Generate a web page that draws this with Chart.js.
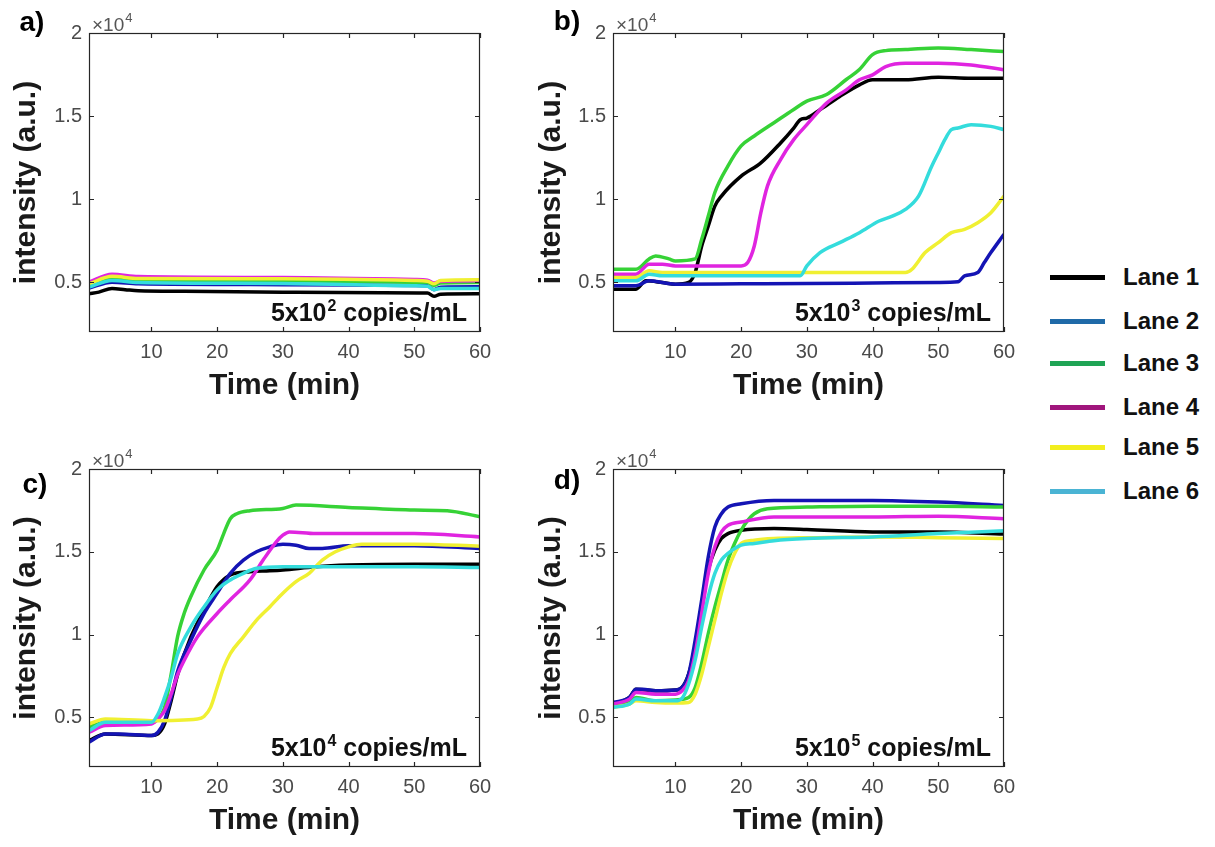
<!DOCTYPE html>
<html>
<head>
<meta charset="utf-8">
<script src="https://cdn.jsdelivr.net/npm/chart.js@4.4.1/dist/chart.umd.min.js"></script>
<style>
  html, body { margin:0; padding:0; background:#fff; }
  body { width:1215px; height:847px; position:relative; overflow:hidden; font-family:"Liberation Sans", Arial, sans-serif; }
  canvas { position:absolute; }
  #legend { position:absolute; left:1050px; top:262px; }
  .item { position:absolute; left:0; width:170px; height:30px; }
  .sw { position:absolute; left:0; top:13px; width:55px; height:5px; }
  .lb { position:absolute; left:73px; top:0; font-weight:bold; font-size:24px; line-height:30px; color:#111; white-space:nowrap; }
</style>
</head>
<body>
<canvas id="ca" width="525" height="410" style="left:0px;top:0px"></canvas>
<canvas id="cb" width="525" height="410" style="left:525px;top:0px"></canvas>
<canvas id="cc" width="525" height="427" style="left:0px;top:420px"></canvas>
<canvas id="cd" width="525" height="427" style="left:525px;top:420px"></canvas>
<div id="legend"></div>
<script>
// ---- labels ----
const laneNames = ['Lane 1','Lane 2','Lane 3','Lane 4','Lane 5','Lane 6'];
const panelLabels = ['a)','b)','c)','d)'];
const concExponents = ['2','3','4','5'];
const xTicks = [10,20,30,40,50,60];
const yTicks = [0.5,1,1.5,2];   // in units of 10^4
const plotColors = ['#000000','#1414b4','#36d236','#e024e0','#f0f032','#34dcdc'];
const legendColors = ['#000000','#1f6aa8','#1fa455','#a0157c','#f2ee1e','#4ab4d4'];

// ---- panel a) 5x10^2 copies/mL  [time (min), intensity x10^4] ----
const a_lane1 = [[0.5,0.43],[2,0.44],[4,0.462],[6,0.455],[8,0.448],[15,0.445],[30,0.44],[45,0.437],[52,0.435],[53,0.415],[54,0.428],[60,0.43]];
const a_lane2 = [[0.5,0.465],[4,0.5],[8,0.49],[30,0.485],[50,0.48],[52,0.478],[53,0.455],[54,0.47],[60,0.472]];
const a_lane3 = [[0.5,0.48],[4,0.525],[8,0.512],[30,0.508],[50,0.5],[52,0.498],[53,0.48],[54,0.495],[60,0.498]];
const a_lane4 = [[0.5,0.5],[4,0.548],[8,0.534],[30,0.528],[50,0.516],[52,0.512],[53,0.495],[54,0.505],[60,0.508]];
const a_lane5 = [[0.5,0.49],[4,0.535],[8,0.522],[30,0.52],[50,0.51],[52,0.506],[53,0.49],[54,0.51],[60,0.515]];
const a_lane6 = [[0.5,0.47],[4,0.51],[8,0.498],[30,0.492],[50,0.478],[52,0.475],[53,0.455],[54,0.462],[60,0.462]];

// ---- panel b) 5x10^3 copies/mL ----
const b_lane1 = [[0.5,0.458],[4,0.458],[5.5,0.508],[8,0.498],[10,0.488],[12,0.498],[13,0.558],[14,0.718],[15,0.838],[16,0.958],[17,1.018],[20,1.138],[23,1.218],[26,1.338],[28,1.428],[29,1.478],[30,1.488],[32,1.538],[35,1.618],[38,1.688],[40,1.718],[45,1.718],[50,1.734],[55,1.728],[60,1.728]];
const b_lane2 = [[0.5,0.478],[4,0.478],[6,0.508],[10,0.488],[20,0.49],[30,0.492],[40,0.495],[50,0.498],[53,0.502],[54,0.538],[56,0.558],[57,0.618],[58,0.678],[60,0.788]];
const b_lane3 = [[0.5,0.578],[4,0.578],[6,0.64],[7,0.658],[9,0.64],[10,0.628],[13,0.64],[14,0.758],[15,0.898],[16,1.04],[18,1.2],[20,1.32],[22,1.38],[25,1.46],[28,1.54],[30,1.59],[33,1.63],[36,1.72],[38,1.78],[40,1.87],[42,1.894],[45,1.9],[50,1.91],[55,1.9],[60,1.888]];
const b_lane4 = [[0.5,0.548],[4,0.548],[6,0.608],[8,0.608],[10,0.598],[20,0.598],[21,0.618],[22,0.718],[23,0.918],[24,1.078],[26,1.238],[28,1.358],[30,1.448],[33,1.578],[36,1.658],[38,1.718],[40,1.748],[42,1.798],[45,1.818],[50,1.818],[55,1.808],[60,1.778]];
const b_lane5 = [[0.5,0.528],[4,0.528],[6,0.568],[8,0.558],[45,0.558],[46,0.578],[48,0.678],[50,0.738],[52,0.798],[54,0.818],[56,0.858],[58,0.918],[60,1.018]];
const b_lane6 = [[0.5,0.508],[4,0.508],[6,0.548],[8,0.538],[29,0.538],[30,0.598],[32,0.678],[35,0.738],[38,0.798],[41,0.868],[43,0.898],[45,0.938],[47,1.018],[49,1.198],[50,1.278],[51,1.358],[52,1.418],[53,1.428],[55,1.448],[58,1.438],[60,1.418]];

// ---- panel c) 5x10^4 copies/mL ----
const c_lane1 = [[0.5,0.36],[3,0.4],[10,0.39],[11,0.4],[12,0.46],[13,0.6],[14,0.76],[16,0.985],[18,1.147],[20,1.29],[22,1.36],[25,1.38],[28,1.385],[30,1.39],[35,1.41],[40,1.42],[50,1.425],[60,1.425]];
const c_lane2 = [[0.5,0.35],[3,0.4],[5,0.4],[10,0.39],[11,0.41],[12,0.48],[13,0.62],[14,0.78],[16,0.965],[18,1.127],[20,1.25],[22,1.37],[24,1.45],[26,1.5],[28,1.53],[30,1.546],[32,1.54],[34,1.52],[36,1.52],[40,1.537],[50,1.537],[60,1.52]];
const c_lane3 = [[0.5,0.44],[3,0.47],[10,0.47],[11,0.49],[12,0.56],[13,0.76],[14,0.99],[15,1.13],[16,1.23],[18,1.39],[20,1.51],[21,1.61],[22,1.7],[23,1.73],[25,1.748],[30,1.762],[32,1.782],[40,1.768],[50,1.752],[55,1.748],[60,1.712]];
const c_lane4 = [[0.5,0.41],[3,0.45],[10,0.46],[11,0.49],[12,0.54],[13,0.64],[14,0.76],[15,0.845],[17,0.986],[20,1.127],[22,1.21],[25,1.33],[27,1.45],[29,1.56],[30,1.6],[31,1.62],[35,1.61],[40,1.61],[50,1.61],[60,1.59]];
const c_lane5 = [[0.5,0.46],[3,0.49],[10,0.48],[17,0.49],[18,0.505],[19,0.56],[20,0.68],[21,0.8],[22,0.885],[24,0.986],[26,1.087],[28,1.167],[30,1.25],[32,1.32],[34,1.37],[36,1.45],[38,1.5],[40,1.53],[42,1.546],[50,1.546],[60,1.534]];
const c_lane6 = [[0.5,0.42],[3,0.47],[10,0.47],[11,0.52],[12,0.62],[13,0.74],[14,0.885],[16,1.046],[18,1.167],[20,1.27],[22,1.33],[24,1.37],[26,1.4],[30,1.41],[40,1.41],[50,1.41],[60,1.405]];

// ---- panel d) 5x10^5 copies/mL ----
const d_lane1 = [[0.5,0.58],[3,0.62],[4,0.67],[7,0.66],[10,0.665],[11,0.68],[12,0.76],[13,0.925],[14,1.167],[15,1.39],[16,1.51],[17,1.58],[18,1.61],[20,1.63],[25,1.64],[30,1.635],[40,1.62],[50,1.62],[60,1.607]];
const d_lane2 = [[0.5,0.59],[3,0.62],[4,0.67],[5,0.67],[7,0.66],[10,0.665],[11,0.68],[12,0.76],[13,0.965],[14,1.21],[15,1.47],[16,1.65],[17,1.73],[18,1.77],[20,1.79],[25,1.81],[30,1.81],[40,1.81],[50,1.8],[60,1.78]];
const d_lane3 = [[0.5,0.58],[3,0.59],[4,0.62],[7,0.6],[10,0.605],[12,0.62],[13,0.68],[14,0.825],[15,1.006],[16,1.167],[17,1.31],[18,1.45],[19,1.55],[20,1.63],[21,1.69],[22,1.73],[24,1.76],[30,1.77],[40,1.775],[50,1.775],[60,1.77]];
const d_lane4 = [[0.5,0.58],[3,0.61],[4,0.65],[7,0.64],[10,0.64],[11,0.66],[12,0.72],[13,0.885],[14,1.127],[15,1.37],[16,1.53],[17,1.62],[18,1.66],[20,1.68],[25,1.71],[30,1.71],[40,1.71],[50,1.715],[60,1.7]];
const d_lane5 = [[0.5,0.56],[3,0.58],[4,0.6],[7,0.59],[10,0.587],[12,0.59],[13,0.64],[14,0.76],[15,0.925],[16,1.087],[17,1.25],[18,1.39],[19,1.49],[20,1.55],[22,1.57],[25,1.58],[30,1.585],[40,1.59],[50,1.585],[60,1.58]];
const d_lane6 = [[0.5,0.56],[3,0.58],[4,0.61],[7,0.6],[10,0.6],[11,0.615],[12,0.7],[13,0.845],[14,1.046],[15,1.23],[16,1.37],[17,1.45],[18,1.49],[20,1.54],[22,1.55],[25,1.567],[30,1.58],[40,1.59],[50,1.61],[60,1.627]];

const panels = [
  {id:'ca', lanes:[a_lane1,a_lane2,a_lane3,a_lane4,a_lane5,a_lane6], area:{left:89, top:33, right:480, bottom:332}, lab:{x:32, y:23}},
  {id:'cb', lanes:[b_lane1,b_lane2,b_lane3,b_lane4,b_lane5,b_lane6], area:{left:88, top:33, right:479, bottom:332}, lab:{x:42, y:22}},
  {id:'cc', lanes:[c_lane1,c_lane2,c_lane3,c_lane4,c_lane5,c_lane6], area:{left:89, top:49, right:480, bottom:347}, lab:{x:35, y:65}},
  {id:'cd', lanes:[d_lane1,d_lane2,d_lane3,d_lane4,d_lane5,d_lane6], area:{left:88, top:49, right:479, bottom:347}, lab:{x:42, y:61}},
];

const FONT = '"Liberation Sans", Arial, Helvetica, sans-serif';

const decor = {
  id:'decor',
  afterDatasetsDraw(chart, args, o) {
    const {ctx, chartArea:{left,right,top,bottom}, scales:{x,y}} = chart;
    ctx.save();
    // box
    ctx.strokeStyle = '#262626';
    ctx.lineWidth = 1.2;
    ctx.strokeRect(left+0.5, top+0.5, right-left-1, bottom-top-1);
    // inward ticks on all sides
    const tl = 5;
    ctx.beginPath();
    x.ticks.forEach(t => {
      const px = Math.round(x.getPixelForValue(t.value)) + 0.5;
      ctx.moveTo(px, bottom); ctx.lineTo(px, bottom - tl);
      ctx.moveTo(px, top); ctx.lineTo(px, top + tl);
    });
    y.ticks.forEach(t => {
      const py = Math.round(y.getPixelForValue(t.value)) + 0.5;
      ctx.moveTo(left, py); ctx.lineTo(left + tl, py);
      ctx.moveTo(right, py); ctx.lineTo(right - tl, py);
    });
    ctx.stroke();
    // x10^4 exponent label
    ctx.fillStyle = '#555';
    ctx.textBaseline = 'alphabetic';
    ctx.textAlign = 'left';
    ctx.font = '19px ' + FONT;
    let ex = left + 3, ey = top - 2;
    ctx.fillText('\u00d710', ex, ey);
    ex += ctx.measureText('\u00d710').width + 1;
    ctx.font = '13px ' + FONT;
    ctx.fillText('4', ex, ey - 9);
    // panel label
    ctx.fillStyle = '#000';
    ctx.font = 'bold 28px ' + FONT;
    ctx.textAlign = 'center';
    ctx.textBaseline = 'middle';
    ctx.fillText(o.label, o.lx, o.ly);
    // concentration annotation
    const base = '5x10', sup = o.exp, rest = ' copies/mL';
    ctx.textAlign = 'left';
    ctx.textBaseline = 'alphabetic';
    ctx.font = 'bold 25px ' + FONT;
    const wb = ctx.measureText(base).width, wr = ctx.measureText(rest).width;
    ctx.font = 'bold 16px ' + FONT;
    const ws = ctx.measureText(sup).width + 1;
    const total = wb + ws + wr;
    let tx = right - 13 - total, ty = bottom - 11;
    ctx.fillStyle = '#111';
    ctx.font = 'bold 25px ' + FONT;
    ctx.fillText(base, tx, ty);
    ctx.font = 'bold 16px ' + FONT;
    ctx.fillText(sup, tx + wb + 1, ty - 10);
    ctx.font = 'bold 25px ' + FONT;
    ctx.fillText(rest, tx + wb + ws, ty);
    ctx.restore();
  }
};

panels.forEach((p, pi) => {
  const cv = document.getElementById(p.id);
  const W = cv.width, H = cv.height;
  const A = p.area;
  const titleSize = 30;
  const xTitlePad = H - titleSize * 0.6 - (A.bottom + 54);
  new Chart(cv.getContext('2d'), {
    type:'line',
    data:{
      datasets: p.lanes.map((pts, i) => ({
        label: laneNames[i],
        data: pts.map(([t, v]) => ({x:t, y:v})),
        borderColor: plotColors[i],
        backgroundColor: plotColors[i],
        borderWidth: 3.5,
        pointRadius: 0,
        fill: false,
        cubicInterpolationMode: 'monotone',
        order: 5 - i
      }))
    },
    options:{
      responsive:false,
      animation:false,
      devicePixelRatio:1,
      events:[],
      layout:{padding:{left:0, top:A.top, right:W - A.right, bottom:0}},
      plugins:{
        legend:{display:false},
        tooltip:{enabled:false},
        decor:{label:panelLabels[pi], exp:concExponents[pi], lx:p.lab.x, ly:p.lab.y}
      },
      scales:{
        x:{
          type:'linear', min:0.5, max:60,
          afterBuildTicks: s => { s.ticks = xTicks.map(v => ({value:v})); },
          afterFit: s => { s.height = H - A.bottom; },
          grid:{display:false, drawTicks:false, tickLength:0},
          border:{display:false},
          ticks:{color:'#4a4a4a', font:{family:FONT, size:20}, padding:8, maxRotation:0, autoSkip:false},
          title:{display:true, text:'Time (min)', color:'#1a1a1a', font:{family:FONT, size:titleSize, weight:'bold'}, padding:{top:0, bottom:xTitlePad}}
        },
        y:{
          type:'linear', min:0.2, max:2,
          afterBuildTicks: s => { s.ticks = yTicks.map(v => ({value:v})); },
          afterFit: s => { s.width = A.left; },
          grid:{display:false, drawTicks:false, tickLength:0},
          border:{display:false},
          ticks:{color:'#4a4a4a', font:{family:FONT, size:20}, padding:7, callback: v => String(v)},
          title:{display:true, text:'intensity (a.u.)', color:'#1a1a1a', font:{family:FONT, size:titleSize, weight:'bold'}, padding:{top:9, bottom:0}}
        }
      }
    },
    plugins:[decor]
  });
});

// legend (HTML)
const legendTops = [0, 44, 86, 130, 170, 214];
const lg = document.getElementById('legend');
laneNames.forEach((n, i) => {
  const it = document.createElement('div');
  it.className = 'item';
  it.style.top = legendTops[i] + 'px';
  it.innerHTML = '<div class="sw" style="background:' + legendColors[i] + '"></div><div class="lb">' + n + '</div>';
  lg.appendChild(it);
});
</script>
</body>
</html>
